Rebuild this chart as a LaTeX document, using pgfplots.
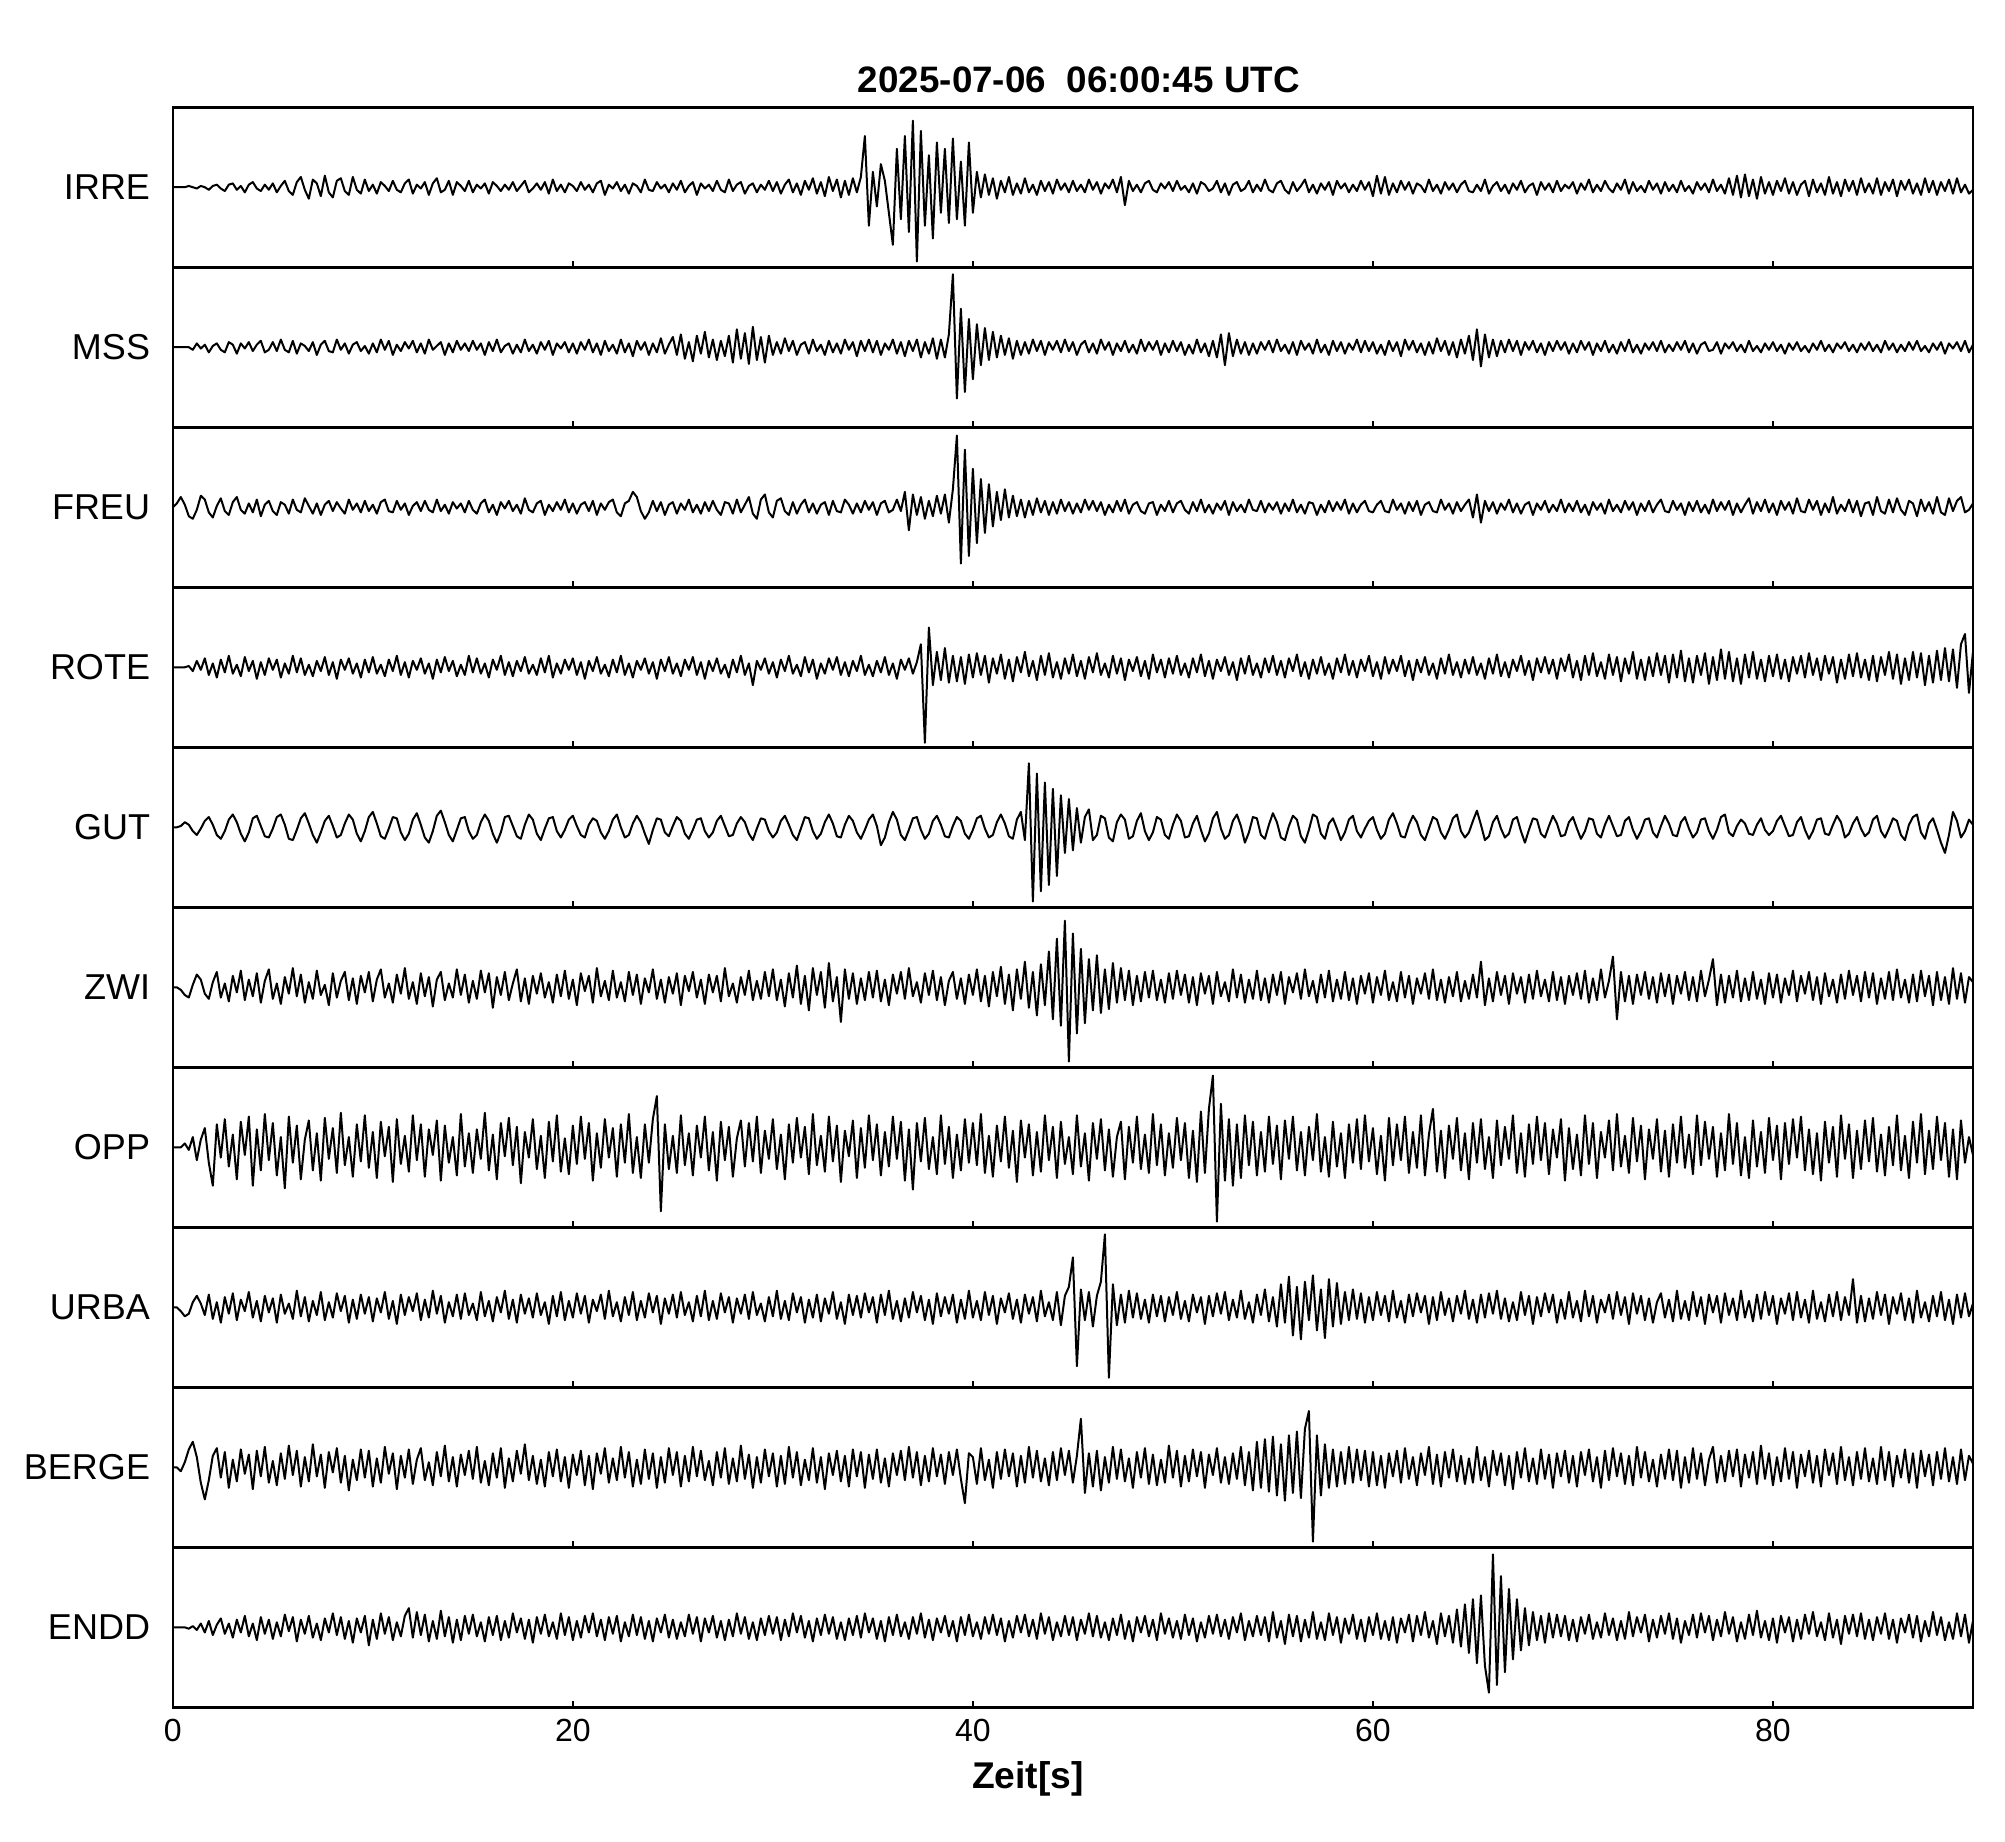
\documentclass[border=0pt]{standalone}
\usepackage{fontspec}
\setmainfont{Liberation Sans}
\usepackage{pgfplots}
\pgfplotsset{compat=1.18}

% build a coordinate list from samples taken every 0.2 s
\newcommand\mktrace[2]{%
  \gdef#1{}%
  \foreach \v [count=\i from 0] in {#2} {%
    \pgfmathsetmacro\tx{\i*0.2}%
    \xdef#1{#1 (\tx,\v)}%
  }%
}
\newcommand\plottrace[1]{\edef\tmp{\noexpand\addplot[tr] coordinates {#1};}\tmp}

\mktrace\irre{0,0,0,0,1, 0,-1,1,0,-2, 1,2,-1,-3,2, 3,-2,1,-4,2, 4,-1,-3,2,-2,
3,-4,1,5,-3, -6,4,8,-2,-9, 6,3,-7,9,-4, -8,5,7,-3,-6, 8,-2,-5,6,-3,
2,-5,4,1,-3, 5,-2,-4,3,6, -5,2,-1,4,-6, 3,7,-4,-2,5, -6,4,1,-3,5,
-4,2,-1,3,-5, 4,1,-3,2,-2, 4,-3,1,5,-4, -1,3,-2,4,-5, 6,-3,2,-4,3,
1,-3,4,-2,2, -4,3,5,-6,2, -1,4,-3,2,-5, 3,1,-4,6,-2, -3,4,-1,2,-4,
3,-2,5,-4,1, 4,-6,3,-1,2, -3,5,-2,-4,6, -3,2,4,-5,1, 3,-4,2,-2,5,
-3,4,-5,2,6, -4,3,-6,5,-2, 7,-5,4,-7,8, -3,6,-8,5,-6, 7,-4,8,40,-30,
12,-15,18,5,-20, -45,30,-25,40,-35, 52,-58,44,-30,25, -40,35,-20,30,-28, 38,-25,20,-30,35,
-20,12,-8,10,-6, 7,-9,5,-4,8, -6,3,-5,7,-4, 2,-6,5,-3,4, -5,6,-2,3,-4,
5,-3,2,-4,6, -2,4,-5,3,-1, 6,-4,8,-14,5, -3,2,-4,3,5, -2,-4,3,-1,4,
-3,5,-2,1,-4, 3,-5,4,2,-3, -1,5,-4,3,-6, 2,4,-3,-1,5, -4,2,-3,6,-2,
-4,3,5,-2,-5, 4,-3,1,6,-4, 2,-5,3,-2,4, -6,5,-1,3,-4, 2,-3,5,-2,4,
-7,9,-5,8,-6, 3,-4,5,-2,4, -5,3,1,-4,6, -3,2,-5,4,-2, 3,-4,2,5,-3,
-4,2,-3,6,-5, 1,4,-3,2,-5, 3,-2,5,-4,1, 3,-6,4,-2,3, -4,5,-3,2,-1,
4,-5,3,-2,6, -4,2,-3,5,-1, -4,3,-2,6,-5, 4,-3,1,-4,5, -2,3,-5,4,-3,
2,-4,5,-3,1, -5,4,-2,3,-4, 6,-3,2,-5,7, -6,9,-8,10,-7, 6,-9,8,-5,4,
-6,5,-3,7,-5, 4,-6,2,5,-7, 6,-4,3,-6,8, -5,4,-7,6,-3, 5,-6,7,-4,3,
-5,7,-6,4,-3, 6,-7,5,-2,6, -5,3,-6,7,-4, 5,-6,4,-3,6, -5,7,-4,2,-5,
-2}

\mktrace\mss{0,0,0,0,0, -2,3,-1,2,-4, 1,3,-2,-4,4, 2,-5,3,-1,4, -3,2,5,-4,-2,
4,-3,6,-2,-4, 5,-5,3,1,-3, 4,-6,2,5,-3, -4,6,-2,3,-5, 2,4,-3,1,-5,
3,-4,6,-2,5, -6,2,-3,4,-1, 5,-4,3,-5,6, -2,1,4,-6,3, -4,5,-2,3,-3,
5,-2,3,-6,4, -3,6,-4,1,3, -5,2,-4,6,-3, 2,-5,4,-2,5, -6,3,-1,4,-4,
3,-5,4,-2,6, -4,3,-6,5,-3, 2,-5,6,-4,3, -7,5,-2,4,-6, 3,-4,7,-5,2,
8,-6,10,-9,4, -11,9,-5,12,-8, 6,-10,5,-7,9, -12,14,-9,11,-13, 16,-10,8,-12,9,
-6,4,-5,7,-3, 5,-6,2,4,-5, 6,-3,2,-6,5, -4,3,-5,6,-2, 4,-7,5,-3,6,
-4,5,-6,3,-2, 6,-5,4,-7,5, -3,6,-8,4,-5, 7,-9,6,-8,10, 57,-40,30,-35,22,
-25,18,-14,15,-10, 12,-8,9,-6,7, -9,5,-6,4,-5, 6,-3,5,-6,4, -2,5,-4,6,-3,
4,-6,2,5,-4, 3,-5,6,-2,4, -6,3,-3,5,-4, 2,-5,6,-3,4, -2,5,-6,3,-4,
5,-3,4,-6,2, -5,6,-4,3,-7, 5,-8,10,-14,11, -7,6,-5,4,-6, 3,-5,4,-2,5,
-4,6,-3,2,-5, 4,-6,5,-2,3, -5,6,-4,2,-6, 5,-3,4,-5,3, -2,6,-4,5,-3,
4,-5,2,-6,5, -3,4,-7,6,-2, 5,-4,3,-6,4, -5,7,-3,5,-6, 4,-8,6,-5,9,
-10,14,-15,10,-8, 6,-7,5,-4,6, -3,5,-6,4,-2, 5,-4,3,-6,4, -3,5,-2,4,-5,
3,-4,5,-2,4, -6,3,-3,5,-4, 2,-5,4,-3,6, -4,2,-5,3,-2, 4,-3,5,-4,2,
-3,4,-2,5,-4, 3,-5,2,4,-3, -2,4,-5,3,-1, 4,-3,2,-4,5, -3,1,-4,3,-2,
4,-3,2,-5,3, -2,4,-3,1,-4, 3,-2,5,-3,2, -4,3,-1,4,-3, 2,-4,3,-2,4,
-3,2,-4,5,-2, 3,-4,2,-3,4, -2,5,-3,1,-4, 3,-2,4,-5,3, -1,4,-3,5,-4,
2}

\mktrace\freu{0,3,8,2,-7, -9,-2,9,6,-4, -8,1,7,-3,-6, 4,8,-2,-5,3, -4,6,-7,2,5,
-3,-6,4,2,-5, 6,-2,-4,7,1, -5,3,-6,2,5, -3,4,-1,-5,6, -2,3,-4,5,-3,
2,-5,4,6,-3, -4,5,-2,3,-6, 1,4,-3,5,-2, -4,6,-3,2,-5, 4,-1,3,-4,5,
-2,-5,3,6,-4, 2,-6,4,-1,5, -3,2,-5,7,-2, -4,3,5,-6,2, -3,4,-2,6,-4,
3,-5,2,4,-3, 5,-6,3,-2,4, 6,-4,-7,3,5, 12,8,-3,-9,-4, 5,-3,4,-6,2,
4,-5,3,-2,6, -4,2,-5,4,-3, 5,-2,-6,4,3, -5,6,-4,2,8, -5,-9,6,10,-4,
-8,5,7,-3,-6, 4,-5,2,6,-4, 3,-5,2,4,-6, 5,-3,-4,6,2, -5,3,-4,5,-2,
4,-6,3,5,-4, -2,6,-3,12,-18, 10,-6,8,-9,5, -7,9,-5,10,-12, 14,56,-44,45,-38,
30,-28,22,-20,18, -15,12,-10,14,-8, 9,-7,6,-8,5, -6,7,-4,5,-6, 4,-5,6,-3,4,
-5,3,-4,6,-2, 5,-3,4,-6,2, -4,5,-3,6,-5, 2,4,-3,-5,3, 4,-6,2,-3,5,
-4,3,5,-2,-5, 4,-3,6,-4,2, -5,3,-2,5,-6, 4,-3,2,-4,6, -2,-3,5,-4,3,
-2,4,-5,3,-3, 6,-4,2,-5,4, 3,-6,2,-4,5, -3,4,-2,6,-5, 3,-4,2,5,-3,
-4,2,5,-3,-4, 6,-2,3,-5,4, -3,5,-6,2,4, -3,-4,6,-2,3, -5,4,-3,2,6,
-8,10,-12,5,-3, 4,-5,3,-2,6, -4,3,-5,2,4, -6,3,-2,5,-4, 2,-3,6,-4,3,
-3,5,-4,2,-6, 4,-2,3,-5,6, -3,2,-4,5,-2, 4,-6,3,-3,5, -4,2,6,-3,-4,
5,-2,3,-6,4, -3,5,-4,2,-5, 6,-3,4,-2,5, -6,3,-4,2,7, -5,4,-3,6,-4,
3,-6,5,-2,4, -5,7,-3,-4,6, -2,5,-6,3,-4, 8,-5,2,-3,6, -4,5,-7,3,4,
-6,8,-3,-5,6, -4,7,-2,-6,5, 3,-7,6,-3,4, -5,8,-4,-6,7, -3,5,8,-4,-2,
3}

\mktrace\rote{0,0,0,0,1, -3,5,-2,7,-6, 3,-8,6,-4,9, -5,2,-7,8,-3, 5,-9,4,-6,7,
-2,6,-8,3,-5, 9,-4,7,-6,2, -7,5,-3,8,-6, 4,-9,6,-2,7, -5,3,-8,6,-4,
8,-5,2,-7,6, -3,9,-6,4,-8, 5,-2,7,-5,3, -9,6,-4,8,-3, 5,-7,2,-6,9,
-4,7,-5,3,-8, 6,-2,9,-6,4, -7,5,-3,8,-5, 2,-6,7,-4,9, -8,3,-5,6,-2,
7,-6,4,-9,5, -3,8,-5,2,-7, 6,-4,9,-6,3, -8,5,-2,7,-5, 4,-9,6,-3,8,
-5,3,-7,6,-2, 8,-6,4,-9,5, -3,7,-5,2,-8, 6,-4,9,-6,3, -14,5,-2,7,-5,
4,-8,6,-3,9, -5,2,-7,8,-4, 6,-9,3,-5,7, -2,8,-6,4,-7, 5,-3,9,-6,2,
-7,5,-4,8,-6, 3,-9,6,-2,7, -5,4,18,-59,31, -14,12,-10,15,-12, 9,-11,8,-13,10,
-8,11,-6,9,-12, 7,-5,10,-9,6, -11,8,-4,12,-7, 5,-10,9,-6,11, -8,4,-9,7,-5,
10,-7,5,-9,8, -4,11,-6,3,-8, 9,-5,7,-10,6, -3,8,-7,5,-9, 10,-4,6,-8,7,
-5,9,-6,3,-8, 7,-4,10,-7,5, -9,6,-3,8,-6, 4,-10,7,-5,9, -6,3,-8,7,-4,
9,-6,5,-8,7, -3,10,-7,4,-9, 6,-5,8,-6,3, -9,7,-4,10,-6, 5,-8,6,-3,9,
-7,4,-9,8,-5, 6,-3,9,-7,5, -10,6,-4,8,-6, 3,-9,7,-5,10, -6,4,-8,6,-5,
8,-6,3,-9,7, -5,10,-7,4,-8, 6,-3,9,-6,5, -10,7,-4,8,-5, 6,-9,7,-3,10,
-8,5,-10,9,-6, 11,-7,4,-9,10, -6,8,-11,7,-5, 12,-9,6,-10,8, -7,11,-6,9,-12,
10,-8,13,-11,7, -12,9,-6,11,-13, 8,-10,14,-9,12, -11,7,-13,10,-8, 12,-9,6,-11,9,
-7,10,-9,6,-11, 8,-5,9,-8,11, -6,7,-10,9,-5, 8,-12,6,-9,10, -7,11,-8,6,-10,
9,-11,8,-6,12, -9,10,-13,7,-10, 12,-8,11,-14,9, -12,13,-10,15,-11, 14,-16,18,26,-20,
12}

\mktrace\gut{0,0,1,4,2, -3,-6,-1,5,8, 2,-6,-9,-3,6, 10,4,-5,-11,-4, 7,9,1,-7,-8,
-1,8,10,2,-9, -10,-2,7,11,3, -6,-12,-4,5,9, 1,-8,-6,3,10, 6,-5,-11,-3,8,
12,3,-7,-9,-1, 8,7,-4,-10,-5, 6,11,2,-8,-12, -3,9,13,4,-6, -11,-2,7,8,-3,
-9,-6,4,10,5, -5,-12,-4,8,9, 1,-7,-9,2,10, 6,-5,-10,-1,7, 8,-3,-8,-2,6,
9,1,-6,-8,2, 7,5,-4,-9,-3, 6,10,0,-8,-6, 3,9,4,-5,-13, -2,7,6,-4,-7,
1,8,5,-5,-9, -2,6,7,-3,-8, -4,5,9,1,-7, -6,3,8,4,-5, -10,-1,7,6,-3,
-8,-4,5,9,2, -6,-10,-1,8,7, -3,-9,-5,4,10, 3,-7,-8,2,9, 5,-4,-9,-2,6,
10,1,-14,-8,4, 12,6,-6,-10,-2, 7,8,-2,-9,-5, 5,9,2,-7,-8, 1,8,5,-5,-9,
-2,7,9,-1,-8, -6,4,10,3,-7, -9,6,12,-10,50, -58,42,-50,35,-45, 30,-38,25,-20,22,
-18,15,-12,8,14, -10,-6,9,7,-8, -11,4,10,6,-9, -7,5,11,-3,-10, -4,8,6,-6,-9,
2,10,5,-8,-7, 3,9,-2,-11,-5, 7,12,-1,-9,-6, 5,10,1,-12,-4, 8,7,-6,-9,2,
11,4,-8,-10,1, 9,6,-7,-12,-2, 10,8,-5,-9,3, 7,-1,-10,-4,6, 9,-3,-8,-1,5,
8,-2,-9,-5,6, 11,3,-7,-8,2, 9,4,-6,-10,-1, 8,6,-4,-9,-2, 7,10,-3,-8,-4,
5,13,2,-10,-7, 4,9,-1,-8,-5, 6,8,-3,-12,-2, 7,6,-5,-8,1, 9,3,-7,-6,4,
8,-1,-9,-3,7, 6,-5,-8,2,9, 1,-7,-6,5,8, -2,-9,-3,6,7, -4,-8,1,9,3,
-6,-7,4,8,-1, -8,-4,6,7,-3, -9,-2,8,10,-4, -7,1,6,3,-5, -6,2,7,-2,-6,
-3,5,9,1,-7, -6,4,8,-2,-9, -3,6,7,-5,-6, 2,9,4,-8,-5, 3,8,-1,-7,-4,
6,9,-3,-8,-1, 7,5,-6,-10,2, 8,10,-4,-9,3, 7,-2,-12,-20,-6, 12,5,-8,-3,6,
2}

\mktrace\zwi{0,0,-2,-6,-8, 2,10,6,-5,-9, 4,12,-8,3,-11, 9,-4,13,-10,6, -7,11,-12,5,14,
-9,3,-13,8,-5, 15,-7,10,-12,4, -9,13,-6,2,-14, 11,-8,5,12,-10, 7,-13,9,-4,12,
-11,6,14,-8,3, -12,10,-5,15,-9, 4,-13,11,-7,8, -15,6,12,-10,3, -8,14,-6,10,-12,
5,-9,13,-4,11, -16,8,-6,12,-10, 3,14,-11,7,-13, 9,-5,11,-8,4, -12,10,-7,13,-9,
6,-14,11,-3,9, -12,15,-7,5,-10, 13,-8,4,-11,12, -6,10,-13,7,-4, 14,-9,6,-12,8,
-5,11,-14,9,-3, 12,-8,6,-13,10, -4,9,-11,15,-7, 3,-12,8,-6,13, -10,5,-9,12,-7,
14,-10,6,-15,11, -8,17,-13,9,-18, 15,-6,12,-16,19, -11,8,-27,14,-9, 11,-13,7,-10,12,
-8,13,-11,6,-14, 10,-5,12,-9,15, -7,4,-12,11,-6, 13,-10,8,-14,5, 12,-9,7,-13,10,
-6,14,-11,9,-15, 12,-7,16,-13,10, -18,14,-9,20,-16, 12,-22,18,-14,28, -25,38,-30,52,-58,
42,-36,30,-28,22, -18,25,-20,14,-17, 19,-12,15,-10,13, -14,9,-11,12,-8, 13,-10,6,-12,11,
-9,13,-6,10,-12, 8,-14,11,-5,9, -13,12,-7,4,-11, 14,-8,10,-12,6, -9,13,-10,7,-12,
10,-6,12,-13,8, -4,11,-9,14,-7, 5,-12,10,-8,13, -11,6,-9,12,-10, 7,-13,9,-5,11,
-12,8,-6,13,-10, 4,-11,12,-8,9, -13,7,-5,11,-9, 14,-10,6,-12,8, -7,12,-11,5,-9,
10,-8,20,-14,7, -11,12,-6,9,-13, 11,-5,8,-12,10, -9,13,-7,6,-11, 12,-10,8,-13,9,
-6,11,-9,13,-12, 7,-10,14,-8,5, 24,-25,12,-11,9, -13,10,-6,12,-9, 8,-12,11,-7,10,
-13,9,-5,12,-10, 8,-11,13,-7,6, 22,-14,10,-12,9, -8,13,-11,7,-10, 12,-9,6,-13,11,
-8,10,-12,7,-6, 13,-11,9,-5,12, -10,8,-13,11,-7, 6,-12,10,-9,13, -6,9,-11,12,-8,
11,-13,7,-9,12, -10,14,-8,6,-12, 10,-11,13,-7,9, -14,12,-10,8,-13, 15,-9,11,-12,8,
4}

\mktrace\opp{0,0,0,3,-2, 8,-10,6,15,-12, -30,18,-8,22,-15, 10,-25,20,-6,24, -30,14,-18,26,-10,
19,-22,8,-32,24, -12,17,-25,6,21, -18,11,-26,23,-9, 15,-20,27,-14,8, -23,18,-11,25,-16,
12,-24,20,-7,16, -27,22,-13,9,-19, 25,-10,18,-23,14, -6,21,-26,17,-12, 8,-22,26,-15,11,
-20,14,-9,27,-18, 10,-25,19,-7,23, -14,16,-28,12,-8, 22,-17,9,-24,20, -11,25,-19,7,-21,
17,-13,24,-9,19, -26,11,-16,22,-8, 15,-23,18,-12,26, -20,8,-24,18,-12, 22,40,-50,18,-17,
9,-20,25,-14,11, -22,17,-8,24,-18, 12,-26,20,-10,16, -23,7,21,-15,19, -11,24,-20,13,-9,
22,-17,10,-25,18, -12,23,-8,16,-21, 26,-14,9,-19,24, -11,17,-27,13,-7, 21,-24,15,-16,25,
-10,18,-22,12,-15, 24,-9,20,-26,14, -33,19,-11,23,-17, 8,-21,25,-13,16, -24,10,-18,22,-12,
19,-14,26,-20,9, -23,17,-11,24,-16, 13,-27,21,-8,18, -22,12,-19,25,-10, 16,-24,20,-13,8,
-21,25,-15,11,-26, 19,-9,22,-18,14, -23,8,20,-25,16, -12,24,-17,10,-20, 26,-14,18,-22,11,
-16,23,-10,19,-24, 13,-27,28,-20,30, 56,-58,34,-26,22, -30,18,-24,25,-14, 20,-22,12,-19,24,
-13,17,-25,21,-9, 24,-18,12,-22,16, -10,26,-19,8,-23, 20,-15,11,-24,18, -12,22,-17,25,-11,
15,-21,9,-26,23, -14,18,-10,24,-20, 12,-16,25,-22,10, 30,-19,13,-24,17, -9,23,-18,11,-25,
19,-12,22,-17,8, -24,21,-14,16,-9, 25,-20,11,-23,18, -13,24,-10,19,-21, 14,-8,22,-26,15,
-17,10,-22,25,-13, 19,-24,12,-8,21, -18,26,-15,9,-20, 23,-11,17,-25,14, -9,22,-19,13,-23,
18,-12,24,-16,10, -21,25,-14,20,-9, 16,-23,11,-18,26, -13,19,-22,8,-24, 21,-15,12,-20,23,
-10,17,-25,19,-13, 22,-8,24,-18,14, -21,11,-26,20,-12, 16,-23,25,-9,18, -24,13,-17,21,-11,
23,-19,10,-22,16, -14,25,-18,9,-24, 20,-12,26,-21,13, -17,24,-10,19,-23, 14,-25,21,-12,8,
-6}

\mktrace\urba{0,0,-3,-7,-5, 4,9,3,-6,10, -9,4,-12,8,-5, 11,-10,6,-3,12, -8,5,-11,9,-4,
7,-12,10,-5,3, -9,13,-7,8,-11, 5,-6,12,-10,4, -8,11,-3,9,-12, 6,-9,10,-5,8,
-11,7,-4,12,-9, 5,-13,10,-6,8, -3,11,-10,6,-8, 13,-5,9,-12,4, -7,10,-9,11,-6,
3,-10,12,-7,5, -11,8,-4,13,-9, 6,-12,10,-5,7, -8,11,-6,4,-13, 9,-7,12,-10,5,
-8,11,-5,9,-12, 6,-3,10,-9,13, -7,4,-11,8,-6, 12,-10,5,-8,11, -4,9,-13,7,-5,
10,-8,12,-6,4, -11,9,-7,13,-10, 5,-9,11,-4,8, -12,7,-5,10,-9, 12,-6,3,-11,8,
-7,13,-9,5,-10, 11,-4,8,-12,6, -8,10,-11,7,-5, 12,-9,4,-13,10, -6,9,-8,11,-4,
8,-12,10,-6,13, -9,5,-11,7,-8, 12,-4,9,-10,6, -13,11,-7,8,-5, 10,-12,6,-9,13,
-8,5,-10,12,-6, 9,-13,7,-4,11, -9,6,-12,10,-5, 8,-11,13,-7,4, -10,12,-14,9,16,
39,-46,14,-10,12, -15,9,20,57,-55, 18,-14,10,-12,13, -8,11,-9,6,-12, 10,-7,9,-11,8,
-6,12,-9,5,-11, 10,-4,8,-13,9, -7,11,-5,12,-10, 6,-8,13,-9,4, -12,10,-6,14,-11,
8,-15,18,-12,24, -22,16,-25,20,-10, 25,-18,14,-24,22, -15,19,-13,12,-10, 14,-9,11,-12,8,
-10,12,-6,9,-11, 13,-8,5,-12,10, -7,11,-4,9,-13, 8,-10,12,-6,7, -11,9,-5,13,-9,
6,-12,10,-8,11, -5,13,-9,7,-11, 4,-10,12,-6,9, -13,8,-7,11,-4, 10,-12,6,-9,12,
-8,5,-11,13,-7, 9,-12,6,-4,10, -9,12,-6,8,-13, 11,-5,9,-10,7, -12,4,11,-8,6,
-11,13,-9,5,-10, 12,-7,8,-13,10, -4,9,-12,11,-6, 7,-10,13,-8,5, -11,10,-9,12,-6,
9,-13,7,-5,11, -10,12,-8,6,-12, 13,-9,4,-11,10, -7,12,-10,8,-6, 22,-12,9,-11,7,
-9,12,-6,10,-13, 8,-5,11,-10,7, -12,13,-8,4,-11, 9,-7,12,-10,6, -13,10,-8,11,-7,
3}

\mktrace\berge{0,0,-3,4,14, 20,8,-12,-25,-10, 9,15,-8,12,-16, 6,-11,14,-5,10, -17,13,-7,16,-12,
5,-14,11,-9,17, -6,13,-15,8,-11, 18,-7,10,-16,12, -4,15,-12,9,-18, 6,-10,14,-8,13,
-15,7,-12,16,-5, 11,-17,9,-8,14, -13,6,15,-10,4, -14,12,-7,17,-11, 8,-15,10,-6,13,
-9,16,-12,5,-14, 11,-8,15,-16,7, -11,13,-5,18,-10, 9,-13,6,-15,12, -7,14,-11,8,-16,
10,-6,13,-14,9, -17,11,-5,15,-12, 7,-10,16,-8,12, -15,6,-13,14,-9, 11,-16,8,-12,15,
-6,12,-15,9,-11, 16,-7,13,-10,5, -14,12,-8,15,-13, 7,-11,17,-9,10, -16,8,-12,14,-7,
11,-15,9,-13,16, -8,12,-14,6,-10, 15,-12,8,-17,11, -6,13,-11,9,-15, 14,-7,12,-16,10,
-9,14,-12,7,-15, 11,-6,13,-10,16, -8,12,-14,9,-11, 15,-7,10,-13,12, -6,14,-9,-28,11,
8,-13,15,-10,6, -16,12,-9,14,-7, 11,-15,9,-12,16, -8,13,-11,7,-14, 12,-10,15,-6,13,
-12,9,38,-20,11, -15,13,-18,8,-12, 16,-9,14,-11,7, -16,12,-8,15,-13, 10,-14,6,-12,17,
-8,13,-15,9,-11, 14,-7,12,-16,10, -6,15,-12,8,-13, 11,-9,16,-14,12, -18,20,-16,22,-19,
24,-22,18,-26,25, -20,28,-24,30,44, -58,25,-22,18,-16, 14,-15,12,-13,16, -12,14,-10,13,-15,
12,-14,9,-16,11, -7,13,-12,15,-9, 8,-14,11,-6,16, -13,10,-15,12,-8, 14,-11,9,-13,7,
-12,16,-10,8,-15, 13,-6,11,-14,9, -17,12,-8,15,-11, 7,-13,14,-9,10, -16,11,-7,13,-12,
9,-15,12,-6,14, -11,8,-16,13,-10, 15,-7,11,-13,9, -14,16,-8,12,-11, 6,-15,10,-9,14,
-10,13,-16,8,-12, 15,-9,11,-14,6, 16,-12,9,-11,13, -7,14,-15,10,-8, 12,-13,17,-9,11,
-14,8,-11,15,-9, 12,-16,10,-7,13, -12,9,-15,14,-6, 11,-13,16,-10,8, -14,12,-9,15,-11,
7,-13,16,-10,12, -15,9,-8,14,-12, 11,-16,13,-7,10, -14,12,-9,15,-11, 8,-13,14,-10,9,
3}

\mktrace\endd{0,0,0,0,-1, 1,-2,3,-4,5, -6,2,7,-5,3, -8,6,-4,9,-7, 3,-10,8,-5,6,
-9,4,-7,10,-3, 8,-11,6,-5,9, -8,3,-10,7,-4, 11,-6,8,-9,5, -12,7,-4,9,-14,
6,-9,11,-5,8, -10,4,-7,9,15, -8,12,-6,10,-11, 5,-9,13,-7,8, -12,6,-10,9,-5,
10,-7,4,-11,8, -6,9,-10,5,-8, 11,-4,7,-9,6, -12,8,-5,10,-7, 4,-9,11,-6,8,
-10,5,-8,9,-4, 11,-7,6,-10,8, -5,9,-11,4,-7, 10,-6,8,-9,5, -11,7,-4,10,-8,
6,-9,4,-7,10, -5,8,-11,7,-4, 9,-8,5,-10,6, -7,11,-5,8,-9, 4,-10,7,-6,9,
-5,8,-10,6,-7, 11,-4,9,-8,5, -11,7,-6,10,-5, 8,-9,4,-10,7, -6,9,-8,11,-4,
7,-9,5,-11,8, -6,10,-7,4,-9, 8,-5,11,-8,6, -10,7,-4,9,-7, 5,-11,8,-6,10,
-7,4,-9,8,-5, 10,-6,7,-11,5, -8,9,-4,10,-7, 6,-9,11,-5,8, -10,4,-7,9,-6,
8,-10,6,-5,11, -7,9,-8,4,-10, 7,-6,10,-9,5, -11,8,-4,9,-7, 6,-10,11,-5,7,
-8,5,-9,10,-6, 7,-11,4,-8,9, -5,10,-7,6,-9, 8,-4,11,-10,5, -7,9,-6,8,-11,
12,-8,5,-13,10, -7,9,-11,6,-8, 12,-9,4,-10,11, -6,8,-12,7,-5, 10,-9,6,-11,8,
-6,11,-9,5,-10, 8,-12,7,-4,10, -11,9,-6,12,-8, 5,-13,11,-7,9, -12,14,-15,18,-20,
22,-28,25,-30,-51, 57,-45,40,-35,30, -25,22,-18,15,-14, 12,-10,9,-12,11, -8,10,-7,9,-10,
6,-11,8,-5,10, -9,4,-8,11,-6, 7,-10,5,-9,12, -7,8,-4,10,-11, 6,-8,9,-5,11,
-9,7,-12,5,-6, 10,-8,11,-4,9, -10,6,-7,12,-5, 8,-11,4,-9,10, -6,13,-8,5,-10,
7,-12,9,-4,8, -11,6,-9,10,-5, 12,-7,4,-10,11, -8,6,-13,9,-5, 10,-7,11,-9,6,
-10,8,-5,11,-9, 6,-12,7,-4,10, -8,9,-11,5,-7, 12,-6,8,-10,4, -9,11,-7,10,-12,
5}

\pgfplotsset{
  seis/.style={
    scale only axis, width=450pt, height=40pt,
    xmin=0, xmax=90, ymin=-62.5, ymax=62.5,
    ytick=\empty, xtick={20,40,60,80}, xticklabels=\empty,
    xtick pos=left, tick align=inside, major tick length=1.6pt,
    axis line style={line width=0.65pt, black},
    every tick/.style={line width=0.65pt, black},
    anchor=north west,
  },
  tr/.style={black, line width=0.5pt, mark=none, line join=round},
  /pgf/number format/assume math mode=true,
}
\tikzset{lab/.style={anchor=east, inner sep=0pt, xshift=-5.5pt, font=\fontsize{9}{10}\selectfont}}

\begin{document}
\begin{tikzpicture}
\begin{axis}[seis, name=a1, at={(0pt,0pt)}]
\plottrace{\irre}
\end{axis}
\begin{axis}[seis, name=a2, at={(0pt,-40pt)}]
\plottrace{\mss}
\end{axis}
\begin{axis}[seis, name=a3, at={(0pt,-80pt)}]
\plottrace{\freu}
\end{axis}
\begin{axis}[seis, name=a4, at={(0pt,-120pt)}]
\plottrace{\rote}
\end{axis}
\begin{axis}[seis, name=a5, at={(0pt,-160pt)}]
\plottrace{\gut}
\end{axis}
\begin{axis}[seis, name=a6, at={(0pt,-200pt)}]
\plottrace{\zwi}
\end{axis}
\begin{axis}[seis, name=a7, at={(0pt,-240pt)}]
\plottrace{\opp}
\end{axis}
\begin{axis}[seis, name=a8, at={(0pt,-280pt)}]
\plottrace{\urba}
\end{axis}
\begin{axis}[seis, name=a9, at={(0pt,-320pt)}]
\plottrace{\berge}
\end{axis}
\begin{axis}[seis, name=a10, at={(0pt,-360pt)},
  xtick={0,20,40,60,80}, xticklabels={0,20,40,60,80},
  xticklabel style={font=\fontsize{8}{9}\selectfont, anchor=base, yshift=-8.5pt, inner sep=0pt}]
\plottrace{\endd}
\end{axis}
\node[lab] at (a1.west) {IRRE};
\node[lab] at (a2.west) {MSS};
\node[lab] at (a3.west) {FREU};
\node[lab] at (a4.west) {ROTE};
\node[lab] at (a5.west) {GUT};
\node[lab] at (a6.west) {ZWI};
\node[lab] at (a7.west) {OPP};
\node[lab] at (a8.west) {URBA};
\node[lab] at (a9.west) {BERGE};
\node[lab] at (a10.west) {ENDD};
\node[anchor=base, inner sep=0pt, font=\bfseries\fontsize{9.2}{11}\selectfont] at ([xshift=1.5pt, yshift=3.7pt]a1.north) {2025-07-06\ \ 06:00:45 UTC};
\node[anchor=base, inner sep=0pt, font=\bfseries\fontsize{9.3}{11}\selectfont] at ([xshift=-11.25pt, yshift=-20.4pt]a10.south) {Zeit[s]};
\pgfresetboundingbox
\path[use as bounding box] (-43.2pt,26.8pt) rectangle (458pt,-433.5pt);
\end{tikzpicture}
\end{document}
